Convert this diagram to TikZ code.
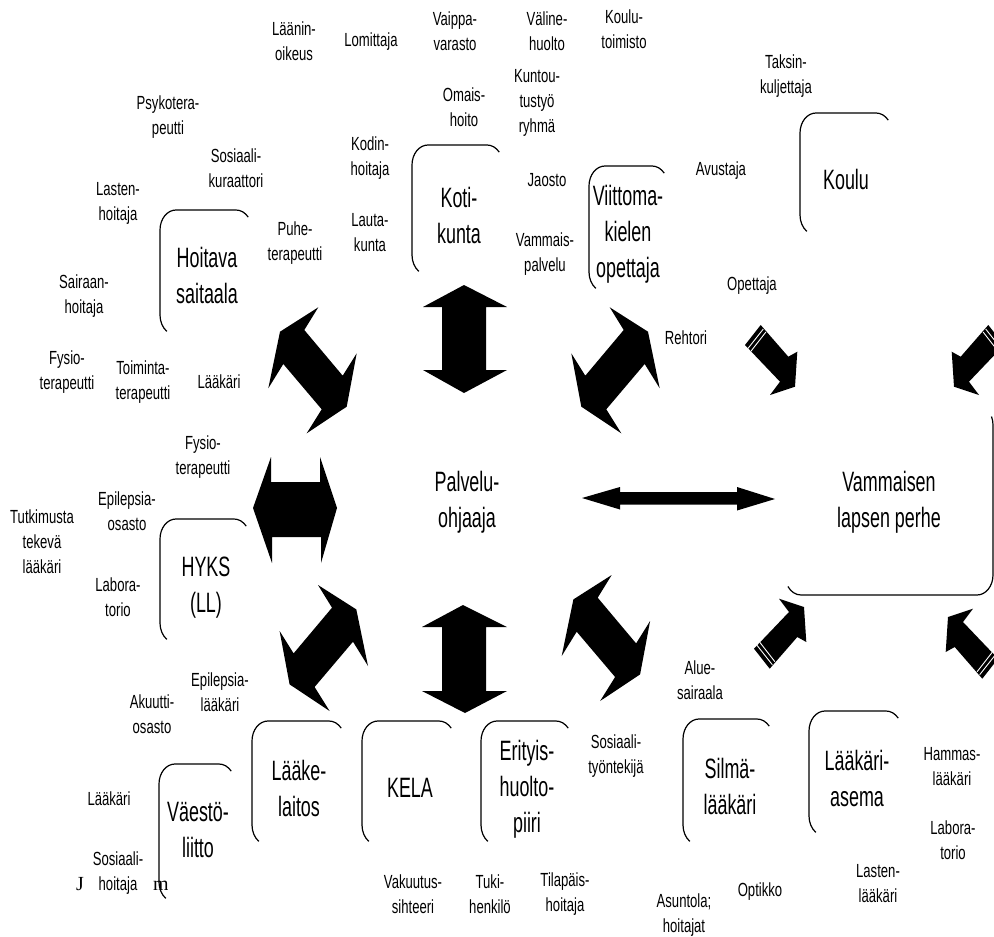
\documentclass[tikz,border=0pt]{standalone}
\usepackage{fontspec}
\setmainfont{Liberation Sans}
\newfontfamily\smf{Liberation Sans}[FakeStretch=0.69]
\newfontfamily\bgf{Liberation Sans}[FakeStretch=0.64]
\newfontfamily\serf{Liberation Serif}
\usetikzlibrary{calc}
\tikzset{
  lbl/.style={align=center, inner sep=0pt, font=\smf\fontsize{19}{25}\selectfont},
  big/.style={align=center, inner sep=0pt, font=\bgf\fontsize{28}{36}\selectfont},
  frame/.style={line width=1.2pt, black},
  stripe/.style={white, line width=0.9pt},
}
\newcommand{\rbox}[4]{%
  \draw[frame] (#1,#4-20) -- (#1,#2+20) arc[start angle=180,end angle=90,x radius=16pt,y radius=20pt] -- (#3-16,#2) arc[start angle=90,end angle=40,x radius=16pt,y radius=20pt];
  \draw[frame] (#1,#4-20) arc[start angle=180,end angle=235,x radius=16pt,y radius=20pt];
}
\newcommand{\diagarrow}{%
  \fill (318.3,307.3) -- (304.3,330) -- (342.7,375.7) -- (356.7,353.3) -- (346.7,406.7) -- (306.7,433.3) -- (321.7,409.3) -- (283.3,364) -- (268.3,388.3) -- (280,331.7) -- cycle;
}
\newcommand{\smallarrow}{%
  \fill (745,345) -- (760.7,325) -- (788.3,356.7) -- (797.3,351.7) -- (795,386.7) -- (770,395) -- (780,381.7) -- cycle;
  \draw[stripe] (748.0,348.4) -- (763.3,329.0);
  \draw[stripe] (750.8,351.4) -- (765.9,332.0);
}
\begin{document}
\begin{tikzpicture}[x=1pt,y=-1pt]
\useasboundingbox (0,0) rectangle (994,937);
\clip (0,0) rectangle (994,937);

% ---------- frames ----------
\rbox{412}{145}{503}{275}
\rbox{160}{210}{252}{335}
\rbox{589}{166}{668}{292}
\rbox{800}{113}{892}{235}
\rbox{160}{519}{250}{643}
\rbox{159}{764}{235}{902}
\rbox{252}{721}{345}{845}
\rbox{362}{721}{455}{845}
\rbox{481}{721}{572}{845}
\rbox{683}{719}{773}{845}
\rbox{809}{711}{902}{836}
% family frame (bottom/right visible)
\draw[frame] ($(977,425)+(25:16pt and 20pt)$) arc[start angle=25,end angle=0,x radius=16pt,y radius=20pt] -- (993,575) arc[start angle=0,end angle=-90,x radius=16pt,y radius=20pt] -- (801,595) arc[start angle=270,end angle=215,x radius=16pt,y radius=20pt];

% ---------- big block arrows ----------
\fill (464,285) -- (507,307) -- (486,307) -- (486,370) -- (507,370) -- (464,393) -- (423,370) -- (442,370) -- (442,307) -- (423,307) -- cycle;
\fill (463,605) -- (507,627) -- (486,627) -- (486,691) -- (507,691) -- (465,713) -- (422,691) -- (442,691) -- (442,627) -- (422,627) -- cycle;
\fill (253,508) -- (271,457) -- (271,482) -- (320,482) -- (320,457) -- (337,508) -- (321,563) -- (321,537) -- (272,537) -- (272,563) -- cycle;
\fill (582,498) -- (620,487) -- (620,492) -- (737,492) -- (737,487) -- (775,499) -- (737,510.5) -- (737,504.5) -- (620,504.5) -- (620,509.5) -- cycle;
\begin{scope}\diagarrow\end{scope}
\begin{scope}[shift={(928,0)},xscale=-1]\diagarrow\end{scope}
\begin{scope}[shift={(636.3,277.7)},xscale=-1]\diagarrow\end{scope}
\begin{scope}[shift={(293.4,267.7)}]\diagarrow\end{scope}

% ---------- small striped arrows ----------
\begin{scope}\smallarrow\end{scope}
\begin{scope}[shift={(1749,0)},xscale=-1]\smallarrow\end{scope}
\begin{scope}[shift={(9,993.7)},yscale=-1]\smallarrow\end{scope}
\begin{scope}[shift={(1743,1003.7)},xscale=-1,yscale=-1]\smallarrow\end{scope}

% ---------- big labels ----------
\node[big] (kotikunta) at (459,215) {Koti-\\kunta};
\node[big] (hoitava) at (207,275) {Hoitava\\saitaala};
\node[big] (viittoma) at (628,234) {Viittoma-\\kielen\\opettaja};
\node[big] (koulu) at (846,179) {Koulu};
\node[big] (palvelu) at (467,502) {Palvelu-\\ohjaaja};
\node[big] (perhe) at (889,502) {Vammaisen\\lapsen perhe};
\node[big] (hyks) at (206,588) {HYKS\\(LL)};
\node[big] (vaesto) at (198,830) {Väestö-\\liitto};
\node[big] (laake) at (299,788) {Lääke-\\laitos};
\node[big] (kela) at (410,788) {KELA};
\node[big] (erityis) at (527,789) {Erityis-\\huolto-\\piiri};
\node[big] (silma) at (730,786) {Silmä-\\lääkäri};
\node[big] (asema) at (857,778) {Lääkäri-\\asema};

% ---------- small labels ----------
\node[lbl] (laenin) at (294,41) {Läänin-\\oikeus};
\node[lbl] (lomittaja) at (371,42) {Lomittaja};
\node[lbl] (vaippa) at (455,31) {Vaippa-\\varasto};
\node[lbl] (valine) at (547,31) {Väline-\\huolto};
\node[lbl] (koulutoim) at (624,29) {Koulu-\\toimisto};
\node[lbl] (taksi) at (786,76) {Taksin-\\kuljettaja};
\node[lbl] (omais) at (464,107) {Omais-\\hoito};
\node[lbl] (kuntou) at (537,103) {Kuntou-\\tustyö\\ryhmä};
\node[lbl] (psyko) at (168,117) {Psykotera-\\peutti};
\node[lbl] (sosk) at (236,168) {Sosiaali-\\kuraattori};
\node[lbl] (kodin) at (370,158) {Kodin-\\hoitaja};
\node[lbl] (jaosto) at (547,180) {Jaosto};
\node[lbl] (avustaja) at (721,171) {Avustaja};
\node[lbl] (lastenh) at (118,203) {Lasten-\\hoitaja};
\node[lbl] (lauta) at (370,233) {Lauta-\\kunta};
\node[lbl] (puhe) at (295,243) {Puhe-\\terapeutti};
\node[lbl] (vammais) at (545,254) {Vammais-\\palvelu};
\node[lbl] (opettaja) at (752,286) {Opettaja};
\node[lbl] (sairaan) at (84,296) {Sairaan-\\hoitaja};
\node[lbl] (rehtori) at (686,338) {Rehtori};
\node[lbl] (fysio1) at (67,372) {Fysio-\\terapeutti};
\node[lbl] (toim) at (143,382) {Toiminta-\\terapeutti};
\node[lbl] (laakari1) at (219,382) {Lääkäri};
\node[lbl] (fysio2) at (203,457) {Fysio-\\terapeutti};
\node[lbl] (epios) at (127,511) {Epilepsia-\\osasto};
\node[lbl] (tutk) at (42,542) {Tutkimusta\\tekevä\\lääkäri};
\node[lbl] (labora1) at (118,597) {Labora-\\torio};
\node[lbl] (alue) at (700,680) {Alue-\\sairaala};
\node[lbl] (epilaak) at (220,692) {Epilepsia-\\lääkäri};
\node[lbl] (akuutti) at (152,714) {Akuutti-\\osasto};
\node[lbl] (sostt) at (616,756) {Sosiaali-\\työntekijä};
\node[lbl] (hammas) at (952,767) {Hammas-\\lääkäri};
\node[lbl] (laakari2) at (109,799) {Lääkäri};
\node[lbl] (labora2) at (953,840) {Labora-\\torio};
\node[lbl] (sosh) at (118,873) {Sosiaali-\\hoitaja};
\node[lbl] (lastenl) at (878,884) {Lasten-\\lääkäri};
\node[lbl] (optikko) at (760,892) {Optikko};
\node[lbl] (vakuutus) at (413,894) {Vakuutus-\\sihteeri};
\node[lbl] (tuki) at (490,894) {Tuki-\\henkilö};
\node[lbl] (tilapais) at (565,894) {Tilapäis-\\hoitaja};
\node[lbl] (asuntola) at (684,915) {Asuntola;\\hoitajat};

% ---------- stray serif glyphs ----------
\node[inner sep=0pt, font=\serf\fontsize{20}{24}\selectfont] (jglyph) at (80,884) {J};
\begin{scope}
  \clip (140,860) rectangle (167,910);
  \node[inner sep=0pt, font=\serf\fontsize{20}{24}\selectfont] (mglyph) at (161,886) {m};
\end{scope}
\end{tikzpicture}
\end{document}
